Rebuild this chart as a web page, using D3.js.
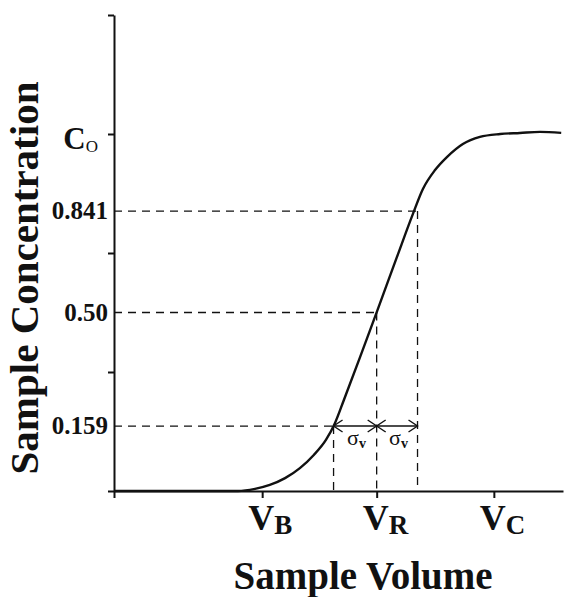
<!DOCTYPE html>
<html>
<head>
<meta charset="utf-8">
<script src="https://cdn.jsdelivr.net/npm/d3@7"></script>
<style>
  html, body { margin: 0; padding: 0; background: #fff; }
  svg text { font-family: "Liberation Serif", "Times New Roman", serif; fill: #111; }
</style>
</head>
<body>
<svg id="chart" width="572" height="597"></svg>
<script>
// breakthrough curve (volume in arbitrary units 0-100, conc. relative to C0)
var curveVol  = [0, 19.2, 27.6, 31.4, 34.7, 38.1, 41.4, 44.5, 47.2, 49.2, 51.2, 54.8, 58.6, 63.0, 66.6, 68.8, 71.5, 74.2, 77.7, 81.5, 86.0, 90.4, 94.9, 99.6];
var curveConc = [0, 0, 0, 0.006, 0.017, 0.036, 0.064, 0.101, 0.143, 0.19, 0.255, 0.375, 0.504, 0.655, 0.777, 0.846, 0.899, 0.936, 0.972, 0.992, 1.0, 1.003, 1.006, 1.003];

// guide levels (dashed lines) and the label drawn for each
var guideVol   = [48.9, 58.5, 67.6];
var guideConc  = [0.182, 0.5, 0.784];
var guideLabel = ["0.159", "0.50", "0.841"];

var yTicks = [0, 1/3, 2/3, 1, 4/3];
var c0 = 1;

var xTickNames = ["B", "R", "C"];
var xTickVals  = [33, 58.5, 84.6];

var svg = d3.select("#chart");
var W = 572, H = 597;
var m = {left: 114, right: 9, top: 15, bottom: 106};

var x = d3.scaleLinear().domain([0, 100]).range([m.left, W - m.right]);
var y = d3.scaleLinear().domain([0, 4/3]).range([H - m.bottom, m.top]);

var ink = "#111";

// axes
var yAxis = d3.axisLeft(y).tickValues(yTicks).tickSize(6).tickSizeOuter(0).tickFormat("");
var xAxis = d3.axisBottom(x).tickValues([0].concat(xTickVals)).tickSize(7).tickSizeOuter(0).tickFormat("");

var gy = svg.append("g").attr("transform", "translate(" + m.left + ",0)").call(yAxis);
var gx = svg.append("g").attr("transform", "translate(0," + y(0) + ")").call(xAxis);
[gx, gy].forEach(function (g) {
  g.selectAll("path, line").attr("stroke", ink).attr("stroke-width", 2);
});

// dashed guides
var dash = "8,6";
guideConc.forEach(function (c, i) {
  svg.append("line")
    .attr("x1", x(0)).attr("x2", x(guideVol[i]))
    .attr("y1", y(c)).attr("y2", y(c))
    .attr("stroke", ink).attr("stroke-width", 1.3).attr("stroke-dasharray", dash);
  svg.append("line")
    .attr("x1", x(guideVol[i])).attr("x2", x(guideVol[i]))
    .attr("y1", y(c)).attr("y2", y(0))
    .attr("stroke", ink).attr("stroke-width", 1.3).attr("stroke-dasharray", dash);
});

// curve
var pts = curveVol.map(function (v, i) { return [v, curveConc[i]]; });
var line = d3.line().x(function (d) { return x(d[0]); }).y(function (d) { return y(d[1]); })
  .curve(d3.curveMonotoneX);
svg.append("path").datum(pts).attr("d", line)
  .attr("fill", "none").attr("stroke", ink).attr("stroke-width", 2.4);

// sigma arrows on the lowest guide level
var ay = y(guideConc[0]);
function head(px, dir) {
  // open chevron pointing in direction dir (-1 left, +1 right)
  var L = 9, Wd = 6;
  svg.append("path")
    .attr("d", "M" + (px - dir * L) + "," + (ay - Wd) + "L" + px + "," + ay + "L" + (px - dir * L) + "," + (ay + Wd))
    .attr("fill", "none").attr("stroke", ink).attr("stroke-width", 1.4);
}
svg.append("line")
  .attr("x1", x(guideVol[0])).attr("x2", x(guideVol[2]))
  .attr("y1", ay).attr("y2", ay)
  .attr("stroke", ink).attr("stroke-width", 1.4);
head(x(guideVol[0]), -1);
head(x(guideVol[1]), 1);
head(x(guideVol[1]), -1);
head(x(guideVol[2]), 1);

[0, 1].forEach(function (i) {
  var cx = (x(guideVol[i]) + x(guideVol[i + 1])) / 2;
  var t = svg.append("text").attr("x", cx - 8).attr("y", ay + 19)
    .attr("font-size", 22);
  t.append("tspan").text("σ");
  t.append("tspan").attr("font-size", 14).attr("font-weight", "bold").attr("dy", 3).text("v");
});

// y labels
guideConc.forEach(function (c, i) {
  svg.append("text").attr("x", m.left - 6).attr("y", y(c) + 8)
    .attr("text-anchor", "end").attr("font-size", 25).attr("font-weight", "bold")
    .text(guideLabel[i]);
});
var c0t = svg.append("text").attr("x", m.left - 16).attr("y", y(c0) + 15)
  .attr("text-anchor", "end").attr("font-size", 31).attr("font-weight", "bold");
c0t.append("tspan").text("C");
c0t.append("tspan").attr("font-size", 17).attr("font-weight", "normal").attr("dy", 3).text("O");

// x labels
xTickVals.forEach(function (v, i) {
  var t = svg.append("text").attr("x", x(v) - 14).attr("y", y(0) + 39)
    .attr("font-size", 36).attr("font-weight", "bold");
  t.append("tspan").text("V");
  t.append("tspan").attr("font-size", 27).attr("dy", 4).text(xTickNames[i]);
});

// axis titles
svg.append("text").attr("x", 363).attr("y", 589)
  .attr("text-anchor", "middle").attr("font-size", 39).attr("font-weight", "bold")
  .text("Sample Volume");
svg.append("text").attr("transform", "translate(38,278) rotate(-90)")
  .attr("text-anchor", "middle").attr("font-size", 41).attr("font-weight", "bold")
  .text("Sample Concentration");
</script>
</body>
</html>
